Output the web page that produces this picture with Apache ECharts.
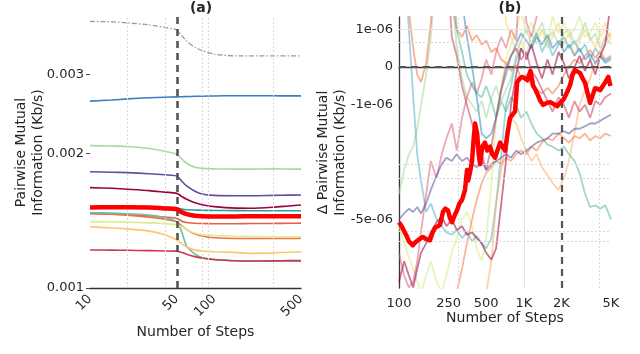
<!DOCTYPE html>
<html lang="en">
  <head>
    <meta charset="UTF-8" />
    <title>Pairwise Mutual Information</title>
    <script src="https://cdn.jsdelivr.net/npm/echarts@6.0.0/dist/echarts.min.js"></script>
    <style>
      html, body { margin: 0; padding: 0; background: #fff; }
    </style>
  </head>
  <body>
    <div id="main" style="width: 640px; height: 354px"></div>
    <script type="text/javascript">
      // ---------- panel (a): pairwise MI, values in 1e-3 Kb/s ----------
      let stepsA = [10, 15, 20, 30, 40, 50, 55, 60, 70, 80, 100, 150, 200, 300, 400, 500];
      let aGray = [3.94, 3.93, 3.91, 3.87, 3.82, 3.77, 3.66, 3.56, 3.45, 3.39, 3.33, 3.30, 3.30, 3.30, 3.30, 3.30];
      let aBlue = [2.615, 2.63, 2.645, 2.66, 2.668, 2.673, 2.675, 2.677, 2.68, 2.682, 2.685, 2.688, 2.688, 2.687, 2.686, 2.686];
      let aLightGreen = [2.08, 2.075, 2.07, 2.05, 2.02, 1.99, 1.94, 1.90, 1.86, 1.85, 1.845, 1.843, 1.843, 1.845, 1.843, 1.843];
      let aPurple = [1.818, 1.814, 1.81, 1.80, 1.79, 1.78, 1.73, 1.69, 1.645, 1.622, 1.61, 1.607, 1.607, 1.61, 1.612, 1.613];
      let aMaroon = [1.676, 1.67, 1.662, 1.65, 1.637, 1.627, 1.60, 1.578, 1.55, 1.535, 1.52, 1.508, 1.507, 1.515, 1.525, 1.532];
      let aTeal = [1.52, 1.52, 1.518, 1.515, 1.512, 1.508, 1.50, 1.495, 1.493, 1.492, 1.49, 1.489, 1.488, 1.488, 1.488, 1.488];
      let aRed = [1.513, 1.515, 1.515, 1.512, 1.506, 1.50, 1.476, 1.462, 1.45, 1.446, 1.444, 1.445, 1.446, 1.447, 1.447, 1.447];
      let aRedOrange = [1.465, 1.462, 1.458, 1.45, 1.44, 1.43, 1.41, 1.40, 1.395, 1.393, 1.392, 1.392, 1.393, 1.394, 1.395, 1.396];
      let aOrange = [1.468, 1.462, 1.455, 1.44, 1.425, 1.405, 1.375, 1.35, 1.32, 1.307, 1.295, 1.29, 1.29, 1.29, 1.29, 1.292];
      let aTealGreen = [1.473, 1.47, 1.465, 1.455, 1.435, 1.405, 1.33, 1.24, 1.19, 1.17, 1.157, 1.15, 1.148, 1.148, 1.148, 1.148];
      let aYellowGreen = [1.406, 1.404, 1.402, 1.398, 1.392, 1.385, 1.37, 1.35, 1.325, 1.315, 1.31, 1.305, 1.303, 1.302, 1.302, 1.302];
      let aYellowOrange = [1.37, 1.362, 1.355, 1.34, 1.315, 1.28, 1.255, 1.235, 1.215, 1.21, 1.205, 1.20, 1.195, 1.198, 1.202, 1.205];
      let aCrimson = [1.216, 1.215, 1.214, 1.212, 1.21, 1.209, 1.20, 1.19, 1.175, 1.165, 1.158, 1.15, 1.149, 1.15, 1.151, 1.151];
      let xTicksA = [10, 50, 100, 500];
      let yTicksA = [0.001, 0.002, 0.003];

      // ---------- panel (b): change in MI, values in 1e-6 Kb/s ----------
      let stepsB = [100, 110, 120, 130, 140, 150, 165, 180, 200, 220, 240, 265, 290, 320, 350, 385,
        420, 460, 500, 550, 600, 660, 720, 790, 870, 950, 1050, 1150, 1270, 1400, 1550,
        1700, 1900, 2100, 2300, 2550, 2800, 3100, 3400, 3750, 4100, 4500, 5000];
      let bSalmon = [5, 3, 1.3, 0.5, -0.2, -0.4, 0.1, 1.1, 3, 3, 3, 1.4, 1.0, 0.8, 1.05, 0.7,
        0.85, 0.6, 0.7, 0.4, 0.5, 0.2, 0.1, -0.1, 0.05, -0.3, -0.2, -0.5, -0.6, -0.7, -0.55,
        -0.7, -0.5, -0.2, 0.0, 0.2, 0.1, 0.3, 0.45, 0.25, 0.4, 0.2, 0.3];
      let bBlue = [null, null, null, null, null, null, null, null, null, null, null, null, 3, 1.5, 0.8, 0.0,
        -0.8, -1.5, -1.6, -1.5, -1.2, -0.6, -0.2, 0.3, 0.6, 0.9, 0.7, 0.5, 0.8, 0.6, 0.85,
        0.5, 0.7, 0.4, 0.6, 0.3, 0.5, 0.2, 0.35, 0.1, 0.3, 0.15, 0.25];
      let bPurple = [-5.0, -4.6, -4.3, -4.5, -4.2, -4.6, -4.0, -3.3, -2.7, -2.3, -2.1, -2.2, -2.0, -2.2, -2.1, -2.3,
        -2.4, -2.2, -2.5, -2.3, -2.2, -2.1, -2.0, -2.1, -1.9, -2.0, -1.9, -1.8, -1.7, -1.65, -1.6,
        -1.5, -1.5, -1.45, -1.5, -1.4, -1.4, -1.35, -1.3, -1.3, -1.25, -1.2, -1.15];
      let bOrange = [null, null, null, null, null, null, null, null, null, null, null, null, -14, -10, -7, -5,
        -3.8, -3.0, -2.6, -2.4, -2.2, -2.3, -2.1, -2.2, -2.0, -1.9, -2.0, -1.8, -1.9, -1.7, -1.6,
        -1.65, -1.5, -1.6, -1.7, -1.55, -1.6, -1.5, -1.65, -1.55, -1.6, -1.5, -1.55];
      let bTealGreen = [null, null, null, null, null, null, null, null, null, null, null, 3, 1.0, 0.4, -0.2, -0.5,
        -0.7, -0.8, -0.5, -0.9, -1.2, -0.9, -1.1, -0.8, -1.0, -1.2, -1.1, -1.3, -1.5, -1.6, -1.75,
        -1.8, -1.9, -1.8, -2.0, -2.2, -2.6, -3.5, -4.2, -4.1, -4.3, -4.1, -5.0];
      let bCyan = [5, 3, 1.0, -0.8, -2.0, -2.9, -4.5, -4.0, -5.0, -5.5, -6.0, -6.2, -5.8, -6.5, -6.0, -6.8,
        -6.3, -7.0, -7.5, -6.5, -4.0, -2.0, -1.0, -0.5, 0.2, 0.5, 0.3, 0.6, 0.9, 0.4, 0.7,
        0.3, 0.6, 0.8, 0.5, 0.7, 0.4, 0.6, 0.2, 0.5, 0.3, 0.1, 0.2];
      let bGreen = [-3.5, -2.5, -2.0, -1.8, -1.4, -1.0, -0.2, 0.8, 2.5, 3, 3, 2, 0.5, -0.3, -0.8, -1.0,
        -1.1, -0.9, -1.2, -0.8, -0.5, -0.9, -0.6, -0.3, 0.3, 0.7, 1.0, 0.6, 0.9, 1.1, 0.7,
        0.95, 0.6, 0.9, 1.0, 0.6, 0.8, 1.1, 0.7, 0.9, 0.5, 0.8, 0.6];
      let bMaroon = [-12, -9, -11, -13, -10, -8, -7, -6, -5.2, -4.8, -5.5, -5.0, -5.8, -5.5, -6.2, -6.0,
        -6.5, -7.0, -8.0, -8.8, -7.5, -4.0, -2.2, -1.0, -0.2, 0.5, 0.2, 0.6, 0.1, -0.3, 0.2,
        -0.2, 0.4, 0.1, -0.3, 0.0, 0.3, -0.1, 0.2, -0.2, 0.3, 0.6, 1.5];
      let bPink = [-8, -11, -13, -12, -9, -6, -3.5, -2.2, -2.8, -2.0, -1.6, -1.3, -1.9, -1.2, -0.8, -0.4,
        -0.7, -0.3, 0.2, -0.2, 0.4, 0.8, 0.5, 1.0, 0.7, 3, 1.1, 0.8, 1.2, 3, null,
        null, null, null, null, null, null, null, null, null, null, null, null];
      let bRose = [null, null, null, null, null, null, null, null, null, null, 3, 0.8, 0.3, -0.5, -1.0, -1.3,
        -1.6, -2.0, -2.5, -1.8, -1.2, -0.6, 0.0, 0.3, 0.5, 0.2, 0.4, -0.1, -0.3, -0.6, -0.9,
        -1.1, -0.8, -1.0, -1.2, -0.9, -1.1, -1.0, -1.2, -0.9, -1.0, -0.8, -0.7];
      let bYellowOrange = [null, null, null, null, null, null, null, null, null, null, null, null, null, null, null, null,
        null, null, -14, -9, -4, -2.5, -1.6, -1.2, -1.3, -1.6, -1.9, -2.2, -2.0, -2.4, -2.7,
        -3.0, -3.3, -2.8, -2.2, -1.5, -1.0, -0.6, -0.3, 0.1, 0.4, 0.7, 0.9];
      let bYellowGreen = [-5.5, -7, -8.5, -10, -12, -14, -11, -9, -12, -14, -11, -8, -6.5, -5, -4.5, -5.5,
        -7.5, -9, -6.5, -3, -1.2, -0.5, 0.2, 0.6, 1.0, 1.3, 0.9, 1.1, 0.8, 1.0, 0.7,
        1.2, 0.9, 1.1, 0.8, 1.0, 1.2, 0.8, 0.9, 1.1, 0.8, 1.0, 0.8];
      let bYellow = [null, null, null, null, null, null, null, null, null, null, null, null, null, null, null, null,
        null, null, null, null, null, 3, 1.1, 0.8, 0.4, 0.7, 0.3, 0.9, 0.6, 1.0, 0.5,
        0.8, 1.1, 0.6, 0.9, 0.3, 0.7, 1.0, 0.8, 0.5, 0.9, 1.1, 0.7];
      // thick red average trace
      let redSteps = [100, 105, 110, 115, 120, 129, 135, 142, 150, 156, 165, 177, 186, 195, 205, 213, 225, 235,
        247, 256, 266, 280, 292, 305, 320, 338, 351, 358, 370, 385, 397, 407, 415, 423, 435, 447, 465,
        489, 510, 537, 560, 589, 615, 646, 675, 708, 740, 776, 810, 851, 885, 930, 972, 1020, 1070,
        1130, 1190, 1240, 1300, 1360, 1430, 1530, 1630, 1740, 1850, 1950, 2070, 2200, 2350, 2460,
        2580, 2700, 2830, 2960, 3100, 3250, 3400, 3560, 3730, 3900, 4100, 4300, 4500, 4760, 4950];
      let redVals = [-5.2, -5.5, -5.9, -6.3, -6.8, -7.2, -6.9, -6.7, -6.5, -6.4, -6.6, -6.7, -6.0, -5.6, -5.5, -5.4,
        -4.5, -4.3, -4.4, -4.9, -5.2, -4.7, -4.4, -4.0, -3.8, -3.3, -2.5, -2.9, -2.6, -2.2, -1.6, -1.3,
        -1.4, -1.5, -2.0, -2.3, -1.8, -1.7, -1.9, -1.8, -2.0, -2.1, -1.9, -1.7, -1.8, -1.9, -1.5, -1.2,
        -1.15, -1.1, -0.4, -0.3, -0.26, -0.3, -0.35, -0.1, -0.5, -0.6, -0.75, -0.9, -1.0, -0.95, -0.93,
        -0.98, -1.02, -0.95, -0.87, -0.7, -0.48, -0.2, -0.08, -0.12, -0.16, -0.3, -0.42, -0.7, -0.95,
        -0.75, -0.56, -0.58, -0.61, -0.5, -0.4, -0.26, -0.5];
      let xTicksB = [100, 250, 500, 1000, 2000, 5000];
      let yTicksB = [1, 0, -1, -5];
      let yMinorB = [0.64, -2.3, -2.85, -5.9, -6.8];

      // symmetric log transform (units of 1e-6), linear band |v| <= 1
      const LIN = 0.23;
      function symlog(v) {
        let a = Math.abs(v);
        let u = a <= 1 ? a * LIN : LIN + Math.log10(a);
        return v < 0 ? -u : u;
      }
      function symexp(u) {
        let a = Math.abs(u);
        let v = a <= LIN ? a / LIN : Math.pow(10, a - LIN);
        return u < 0 ? -v : v;
      }

      const FONT = "DejaVu Sans";
      const TXT = "#262626";

      function lineA(vals, color, extra) {
        return Object.assign({
          type: "line", xAxisIndex: 0, yAxisIndex: 0,
          data: stepsA.map((s, i) => [s, vals[i] * 1e-3]),
          showSymbol: false, smooth: 0.25, z: 3,
          lineStyle: { color: color, width: 1.6 },
          emphasis: { disabled: true }
        }, extra || {});
      }
      function lineB(vals, color, extra) {
        return Object.assign({
          type: "line", xAxisIndex: 1, yAxisIndex: 1,
          data: stepsB.map((s, i) => [s, vals[i] == null ? null : symlog(vals[i])]),
          showSymbol: false, connectNulls: false, z: 3,
          lineStyle: { color: color, width: 1.8, opacity: 0.55 },
          emphasis: { disabled: true }
        }, extra || {});
      }
      function guides(xi, yi, items, style, z) {
        return {
          type: "line", xAxisIndex: xi, yAxisIndex: yi, data: [], z: z, silent: true,
          markLine: {
            silent: true, symbol: ["none", "none"], label: { show: false },
            lineStyle: style, data: items, animation: false
          }
        };
      }

      let series = [
        // faint grid for (a)
        guides(0, 0, [{ xAxis: 20 }, { xAxis: 40 }, { xAxis: 80 }, { xAxis: 90 }, { xAxis: 300 }],
          { color: "#d8d8d8", width: 1, type: [2, 2] }, 1),
        guides(0, 0, [{ yAxis: 0.003 }], { color: "#e2e2e2", width: 1, type: "solid" }, 1),
        lineA(aGray, "#9a9a9a", { lineStyle: { color: "#9a9a9a", width: 1.3, type: [5, 2, 1.5, 2] } }),
        lineA(aBlue, "#3a7dc0"),
        lineA(aLightGreen, "#a6dba0"),
        lineA(aPurple, "#5e4fa2"),
        lineA(aMaroon, "#9e0142"),
        lineA(aTeal, "#2b9ea0"),
        lineA(aRedOrange, "#e8604c"),
        lineA(aOrange, "#f46d43"),
        lineA(aTealGreen, "#66c2a5"),
        lineA(aYellowGreen, "#dcee8c"),
        lineA(aYellowOrange, "#fdc66c"),
        lineA(aCrimson, "#d0364f"),
        lineA(aRed, "#ff0000", { z: 6, lineStyle: { color: "#ff0000", width: 4.5 } }),
        guides(0, 0, [{ xAxis: 50 }], { color: "#555", width: 2.6, type: [7, 5] }, 12),

        // faint grid for (b)
        guides(1, 1, [{ xAxis: 300 }, { xAxis: 4000 }].concat(yMinorB.map((v) => ({ yAxis: symlog(v) }))),
          { color: "#d8d8d8", width: 1, type: [2, 2] }, 1),
        guides(1, 1, [{ xAxis: 1000 }, { yAxis: symlog(1) }], { color: "#e2e2e2", width: 1, type: "solid" }, 1),
        lineB(bYellowGreen, "#d6ec7e"),
        lineB(bYellow, "#fdd672"),
        lineB(bGreen, "#9fd89a"),
        lineB(bCyan, "#4fb3c4"),
        lineB(bPink, "#e0607a"),
        lineB(bSalmon, "#f46d43"),
        lineB(bYellowOrange, "#fdae61"),
        lineB(bTealGreen, "#52b893"),
        lineB(bBlue, "#3288bd"),
        lineB(bOrange, "#f57a40"),
        lineB(bRose, "#c83a5a"),
        lineB(bPurple, "#5e4fa2"),
        lineB(bMaroon, "#9e0142"),
        guides(1, 1, [{ yAxis: 0 }, { xAxis: 2000 }], { color: "#555", width: 2.2, type: [7, 5] }, 8),
        {
          type: "line", xAxisIndex: 1, yAxisIndex: 1,
          data: redSteps.map((s, i) => [s, symlog(redVals[i])]),
          showSymbol: false, z: 10,
          lineStyle: { color: "#ff0000", width: 4.5, join: "round" },
          emphasis: { disabled: true }
        }
      ];

      let options = {
        animation: false,
        backgroundColor: "#fff",
        textStyle: { fontFamily: FONT },
        title: [
          { text: "(a)", left: 196, top: -4, textAlign: "center",
            textStyle: { fontFamily: FONT, fontSize: 14, fontWeight: "bold", color: TXT } },
          { text: "(b)", left: 505, top: -4, textAlign: "center",
            textStyle: { fontFamily: FONT, fontSize: 14, fontWeight: "bold", color: TXT } }
        ],
        grid: [
          { left: 90, top: 17, width: 211, height: 271, outerBoundsMode: "none" },
          { left: 399, top: 17, width: 212, height: 271, outerBoundsMode: "none" }
        ],
        xAxis: [
          {
            type: "log", gridIndex: 0, min: 10, max: 500, logBase: 10,
            name: "Number of Steps", nameLocation: "middle", nameGap: 37, nameMoveOverlap: false,
            nameTextStyle: { fontFamily: FONT, fontSize: 14, color: TXT },
            axisLine: { show: true, lineStyle: { color: "#333", width: 1.3 } },
            axisTick: { show: false, customValues: xTicksA },
            axisLabel: { customValues: xTicksA, rotate: 45, margin: 9, fontSize: 13, color: TXT,
              formatter: (v) => String(Math.round(v)) },
            splitLine: { show: false }, minorSplitLine: { show: false }
          },
          {
            type: "log", gridIndex: 1, min: 100, max: 5000, logBase: 10,
            name: "Number of Steps", nameLocation: "middle", nameGap: 23, nameMoveOverlap: false,
            nameTextStyle: { fontFamily: FONT, fontSize: 14, color: TXT },
            axisLine: { show: true, lineStyle: { color: "#333", width: 1.3 } },
            axisTick: { show: false, customValues: xTicksB },
            axisLabel: { customValues: xTicksB, margin: 9, fontSize: 13, color: TXT,
              formatter: (v) => (v >= 1000 ? Math.round(v / 1000) + "K" : String(Math.round(v))) },
            splitLine: { show: false }
          }
        ],
        yAxis: [
          {
            type: "log", gridIndex: 0, min: 0.001, max: 0.00403, logBase: 10,
            name: "Pairwise Mutual\nInformation (Kb/s)", nameLocation: "middle", nameGap: 43,
            nameMoveOverlap: false,
            nameTextStyle: { fontFamily: FONT, fontSize: 14, color: TXT, lineHeight: 17, align: "center" },
            axisLine: { show: false },
            axisTick: { show: true, customValues: yTicksA, length: 4, lineStyle: { color: "#444" } },
            axisLabel: { customValues: yTicksA, margin: 6, fontSize: 13, color: TXT,
              formatter: (v) => v.toFixed(3) },
            splitLine: { show: false }
          },
          {
            type: "value", gridIndex: 1, min: symlog(-13.1), max: symlog(1.19),
            name: "\u0394 Pairwise Mutual\nInformation (Kb/s)", nameLocation: "middle", nameGap: 50,
            nameMoveOverlap: false,
            nameTextStyle: { fontFamily: FONT, fontSize: 14, color: TXT, lineHeight: 17, align: "center" },
            axisLine: { show: true, lineStyle: { color: "#333", width: 1.3 } },
            axisTick: { show: false, customValues: yTicksB.map(symlog) },
            axisLabel: { customValues: yTicksB.map(symlog), margin: 6, fontSize: 13, color: TXT,
              formatter: (u) => {
                let v = Math.round(symexp(u) * 10) / 10;
                if (v === 0) return "0";
                return (v < 0 ? "-" : "") + Math.abs(v) + "e-06";
              } },
            splitLine: { show: false }
          }
        ],
        series: series
      };

      let myChart = echarts.init(document.getElementById("main"), null, { renderer: "canvas" });
      myChart.setOption(options);
    </script>
  </body>
</html>
